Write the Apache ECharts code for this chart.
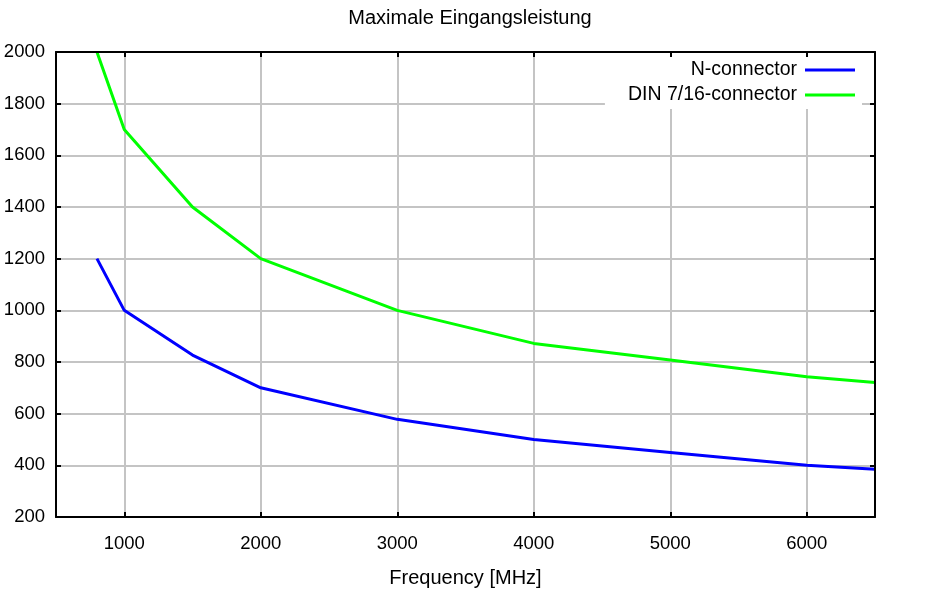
<!DOCTYPE html>
<html><head><meta charset="utf-8">
<script src="https://cdn.jsdelivr.net/npm/echarts@6/dist/echarts.min.js"></script>
<style>html,body{margin:0;padding:0;background:#fff}#c{width:938px;height:599px}</style>
</head><body><div id="c"></div>
<script>
const title = 'Maximale Eingangsleistung';
const xName = 'Frequency [MHz]';
const frequencies = [800, 1000, 1500, 2000, 3000, 4000, 5000, 6000, 6500];
const nConnector = [1200, 1000, 827, 700, 578, 500, 450, 400, 385];
const dinConnector = [2000, 1700, 1400, 1200, 1000, 872, 808, 743, 721];
const xTicks = [1000, 2000, 3000, 4000, 5000, 6000];
const seriesNames = ['N-connector', 'DIN 7/16-connector'];

const font = 'Liberation Sans, Arial, sans-serif';
const chart = echarts.init(document.getElementById('c'));
const pair = (vals) => frequencies.map((f, i) => [f, vals[i]]);
const plain = (v) => String(v);
chart.setOption({
  animation: false,
  title: { text: title, left: 465, top: 3, textAlign: 'center',
    textStyle: { fontFamily: font, fontSize: 20, fontWeight: 'normal', color: '#000' } },
  grid: { left: 56, right: 63, top: 52, bottom: 82 },
  legend: {
    orient: 'vertical', right: 76, top: 52, align: 'right',
    itemWidth: 50, itemHeight: 3, itemGap: 5,
    icon: 'rect',
    backgroundColor: '#fff', padding: [8, 7, 4, 23], z: 4,
    textStyle: { fontFamily: font, fontSize: 19.5, lineHeight: 20, color: '#000', padding: [0, 3, 0, 0] },
    data: seriesNames
  },
  xAxis: [{
    type: 'value', min: 500, max: 6500, position: 'bottom',
    name: xName, nameLocation: 'middle', nameGap: 51,
    nameTextStyle: { fontFamily: font, fontSize: 20, color: '#000' },
    axisLine: { show: true, lineStyle: { color: '#000', width: 2 } },
    axisTick: { show: true, inside: true, length: 5, customValues: xTicks, lineStyle: { color: '#000', width: 2 } },
    axisLabel: { customValues: xTicks, margin: 17, formatter: plain, fontFamily: font, fontSize: 18.5, color: '#000' },
    splitLine: { show: true, lineStyle: { color: '#c4c4c4', width: 2 } }
  }, {
    type: 'value', min: 500, max: 6500, position: 'top', z: 6,
    axisLine: { show: true, lineStyle: { color: '#000', width: 2 } },
    axisTick: { show: true, inside: true, length: 5, customValues: xTicks, lineStyle: { color: '#000', width: 2 } },
    axisLabel: { show: false },
    splitLine: { show: false }
  }],
  yAxis: [{
    type: 'value', min: 200, max: 2000, interval: 200, position: 'left',
    axisLine: { show: true, lineStyle: { color: '#000', width: 2 } },
    axisTick: { show: true, inside: true, length: 5, lineStyle: { color: '#000', width: 2 } },
    axisLabel: { margin: 11, formatter: plain, fontFamily: font, fontSize: 18.5, color: '#000' },
    splitLine: { show: true, lineStyle: { color: '#c4c4c4', width: 2 } }
  }, {
    type: 'value', min: 200, max: 2000, interval: 200, position: 'right', z: 6,
    axisLine: { show: true, lineStyle: { color: '#000', width: 2 } },
    axisTick: { show: true, inside: true, length: 5, lineStyle: { color: '#000', width: 2 } },
    axisLabel: { show: false },
    splitLine: { show: false }
  }],
  series: [
    { name: seriesNames[0], type: 'line', data: pair(nConnector), showSymbol: false, symbol: 'none',
      itemStyle: { color: '#0000ff' }, lineStyle: { color: '#0000ff', width: 3 }, clip: true },
    { name: seriesNames[1], type: 'line', data: pair(dinConnector), showSymbol: false, symbol: 'none',
      itemStyle: { color: '#00ff00' }, lineStyle: { color: '#00ff00', width: 3 }, clip: true }
  ]
});
</script></body></html>
